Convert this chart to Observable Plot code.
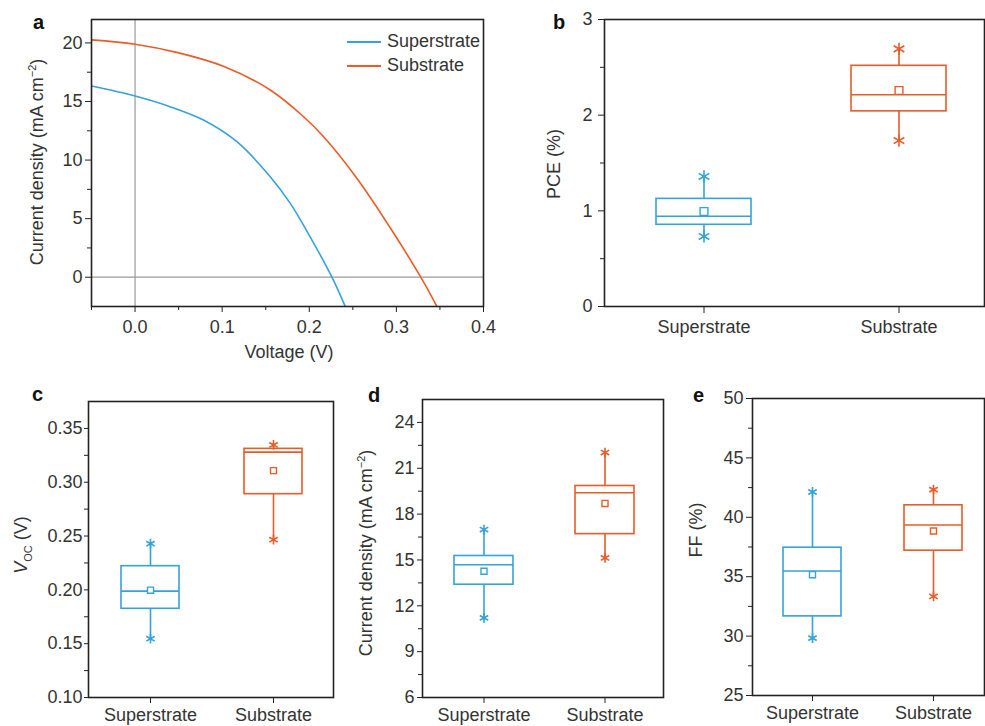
<!DOCTYPE html>
<html><head><meta charset="utf-8">
<script src="https://cdn.jsdelivr.net/npm/d3@7"></script>
<script src="https://cdn.jsdelivr.net/npm/@observablehq/plot@0.6"></script>
<style>
body{margin:0;background:#fff;font-family:"Liberation Sans",Arial,sans-serif;}
#root{position:relative;width:985px;height:726px;overflow:hidden;background:#fff;}
.panel{position:absolute;}
.lbl{position:absolute;font-size:18px;line-height:1;color:#333;white-space:nowrap;}
.ytitle{transform:translate(-50%,-50%) rotate(-90deg);}
.xtitle{transform:translate(-50%,-50%);}
.letter{position:absolute;font-weight:bold;font-size:20px;line-height:1;color:#111;}
sup,sub{font-size:11px;line-height:0;}
</style></head><body><div id="root"></div>
<script>
// ---------- data ----------
const groups = ["Superstrate", "Substrate"];
const colors = ["#35A2D8", "#E85C28"];

// J–V curves (panel a)
const vSuper = [-0.05, 0, 0.0402, 0.0785, 0.1169, 0.1552, 0.1782, 0.201, 0.226, 0.2414];
const jSuper = [16.32, 15.47, 14.56, 13.42, 11.57, 8.58, 6.3, 3.45, 0, -2.52];
const vSub = [-0.05, 0, 0.049, 0.1027, 0.1552, 0.1935, 0.2165, 0.2548, 0.2931, 0.328, 0.3467];
const jSub = [20.26, 19.89, 19.17, 17.97, 15.98, 13.7, 11.99, 8.43, 4.2, 0, -2.52];

// box statistics: [Superstrate, Substrate]
const pceMin = [0.732, 1.735], pceQ1 = [0.854, 2.04], pceMed = [0.944, 2.213], pceQ3 = [1.125, 2.516], pceMax = [1.359, 2.693], pceMean = [0.993, 2.258];
const vocMin = [0.1546, 0.2466], vocQ1 = [0.1824, 0.2889], vocMed = [0.1988, 0.328], vocQ3 = [0.222, 0.331], vocMax = [0.2429, 0.3346], vocMean = [0.1997, 0.3108];
const jscMin = [11.21, 15.13], jscQ1 = [13.38, 16.69], jscMed = [14.69, 19.40], jscQ3 = [15.26, 19.84], jscMax = [16.99, 22.03], jscMean = [14.26, 18.70];
const ffMin = [29.83, 33.34], ffQ1 = [31.66, 37.19], ffMed = [35.48, 39.35], ffQ3 = [37.44, 41.01], ffMax = [42.13, 42.33], ffMean = [35.17, 38.85];

// tick values
const aXTicks = [0, 0.1, 0.2, 0.3, 0.4], aXMinor = [-0.05, 0.05, 0.15, 0.25, 0.35];
const aYTicks = [0, 5, 10, 15, 20], aYMinor = [2.5, 7.5, 12.5, 17.5];
const pceTicks = [0, 1, 2, 3], pceMinor = [0.5, 1.5, 2.5];
const vocTicks = [0.10, 0.15, 0.20, 0.25, 0.30, 0.35], vocMinor = [0.125, 0.175, 0.225, 0.275, 0.325];
const jscTicks = [6, 9, 12, 15, 18, 21, 24], jscMinor = [7.5, 10.5, 13.5, 16.5, 19.5, 22.5];
const ffTicks = [25, 30, 35, 40, 45, 50], ffMinor = [27.5, 32.5, 37.5, 42.5, 47.5];

// ---------- helpers ----------
const root = document.getElementById("root");
function place(svg, left, top) {
  const d = document.createElement("div");
  d.className = "panel"; d.style.left = left + "px"; d.style.top = top + "px";
  d.appendChild(svg); root.appendChild(d);
}
function html(cls, left, top, inner) {
  const d = document.createElement("div");
  d.className = cls; d.style.left = left + "px"; d.style.top = top + "px";
  d.innerHTML = inner; root.appendChild(d);
}
const baseStyle = {fontFamily: "Liberation Sans, Arial, sans-serif", fontSize: "18px", color: "#333", background: "transparent", overflow: "visible"};

// ---------- panel a ----------
const superRows = vSuper.map((v, i) => ({v, j: jSuper[i]}));
const subRows = vSub.map((v, i) => ({v, j: jSub[i]}));
place(Plot.plot({
  width: 500, height: 370, marginLeft: 91, marginRight: 17, marginTop: 19, marginBottom: 64,
  style: baseStyle,
  x: {domain: [-0.05, 0.4]},
  y: {domain: [-2.5, 22]},
  marks: [
    Plot.ruleX([0], {stroke: "#9a9a9a", strokeWidth: 1.2}),
    Plot.ruleY([0], {stroke: "#9a9a9a", strokeWidth: 1.2}),
    Plot.line(superRows, {x: "v", y: "j", stroke: colors[0], strokeWidth: 1.6, curve: "catmull-rom", clip: true}),
    Plot.line(subRows, {x: "v", y: "j", stroke: colors[1], strokeWidth: 1.6, curve: "catmull-rom", clip: true}),
    Plot.frame({stroke: "#222", strokeWidth: 1.6}),
    Plot.axisX(aXTicks, {tickSize: 6, tickPadding: 8, fontSize: 18, tickFormat: d3.format(".1f"), label: null, stroke: "#222"}),
    Plot.axisX(aXMinor, {tickSize: 4, tickFormat: () => "", label: null, stroke: "#222"}),
    Plot.axisY(aYTicks, {tickSize: 6, tickPadding: 3, fontSize: 18, label: null, stroke: "#222"}),
    Plot.axisY(aYMinor, {tickSize: 4, tickFormat: () => "", label: null, stroke: "#222"})
  ]
}), 0, 0);

// legend (panel a)
html("lbl", 347, 41, `<div style="width:34px;height:2px;background:${colors[0]}"></div>`);
html("lbl", 347, 65, `<div style="width:34px;height:2px;background:${colors[1]}"></div>`);
html("lbl", 387, 32, groups[0]);
html("lbl", 387, 56, groups[1]);

// ---------- box panels ----------
function boxPanel(o) {
  const rows = groups.map((g, i) => ({g, min: o.min[i], q1: o.q1[i], med: o.med[i], q3: o.q3[i], max: o.max[i], mean: o.mean[i]}));
  return Plot.plot({
    width: o.width, height: o.height,
    marginLeft: o.ml, marginRight: o.mr, marginTop: o.mt, marginBottom: o.mb,
    style: baseStyle,
    x: {type: "band", domain: groups, paddingInner: o.pi, paddingOuter: o.po, align: o.align},
    y: {domain: o.ydom},
    color: {domain: groups, range: colors},
    marks: [
      Plot.ruleX(rows, {x: "g", y1: "q3", y2: "max", stroke: "g", strokeWidth: 1.6}),
      Plot.ruleX(rows, {x: "g", y1: "min", y2: "q1", stroke: "g", strokeWidth: 1.6}),
      Plot.barY(rows, {x: "g", y1: "q1", y2: "q3", fill: "none", stroke: "g", strokeWidth: 1.6}),
      Plot.tickY(rows, {x: "g", y: "med", stroke: "g", strokeWidth: 1.6}),
      Plot.dot(rows, {x: "g", y: "mean", symbol: "square", r: o.sq, stroke: "g", fill: "white", strokeWidth: 1.4}),
      Plot.dot(rows, {x: "g", y: "max", symbol: "asterisk", r: o.star, stroke: "g", strokeWidth: 1.6}),
      Plot.dot(rows, {x: "g", y: "min", symbol: "asterisk", r: o.star, stroke: "g", strokeWidth: 1.6}),
      Plot.frame({stroke: "#222", strokeWidth: 1.6}),
      Plot.axisX({tickSize: o.xts, tickPadding: o.xtp, fontSize: 18, label: null, stroke: "#222"}),
      Plot.axisY(o.ticks, {tickSize: o.yts, tickPadding: o.ytp, fontSize: 18, tickFormat: o.fmt, label: null, stroke: "#222"}),
      Plot.axisY(o.minor, {tickSize: 4, tickFormat: () => "", label: null, stroke: "#222"})
    ]
  });
}

// panel b
place(boxPanel({width: 485, height: 370, ml: 104, mr: 1, mt: 19, mb: 64, pi: 0.515, po: 0.227, align: 0.58,
  ydom: [0, 3], ticks: pceTicks, minor: pceMinor, fmt: d3.format("d"),
  min: pceMin, q1: pceQ1, med: pceMed, q3: pceQ3, max: pceMax, mean: pceMean,
  sq: 4.4, star: 5.8, xts: 7, xtp: 7, yts: 6, ytp: 6}), 500, 0);

// panel c
place(boxPanel({width: 340, height: 346, ml: 88, mr: 7, mt: 21, mb: 29, pi: 0.53, po: 0.26, align: 0.51,
  ydom: [0.10, 0.375], ticks: vocTicks, minor: vocMinor, fmt: d3.format(".2f"),
  min: vocMin, q1: vocQ1, med: vocMed, q3: vocQ3, max: vocMax, mean: vocMean,
  sq: 3.4, star: 4.6, xts: 6, xtp: 5, yts: 4, ytp: 2}), 0, 380);

// panel d
place(boxPanel({width: 340, height: 346, ml: 82, mr: 17, mt: 19, mb: 29, pi: 0.51, po: 0.25, align: 0.52,
  ydom: [6, 25.5], ticks: jscTicks, minor: jscMinor, fmt: d3.format("d"),
  min: jscMin, q1: jscQ1, med: jscMed, q3: jscQ3, max: jscMax, mean: jscMean,
  sq: 3.4, star: 4.6, xts: 6, xtp: 5, yts: 5, ytp: 3}), 340, 380);

// panel e
place(boxPanel({width: 315, height: 346, ml: 82, mr: 1, mt: 18, mb: 31, pi: 0.52, po: 0.215, align: 0.58,
  ydom: [25, 50], ticks: ffTicks, minor: ffMinor, fmt: d3.format("d"),
  min: ffMin, q1: ffQ1, med: ffMed, q3: ffQ3, max: ffMax, mean: ffMean,
  sq: 3.4, star: 4.6, xts: 6, xtp: 5, yts: 6, ytp: 3}), 670, 380);

// ---------- titles & letters ----------
html("lbl ytitle", 37, 162, "Current density (mA cm<sup>−2</sup>)");
html("lbl xtitle", 289, 352, "Voltage (V)");
html("lbl ytitle", 554, 164, "PCE (%)");
html("lbl ytitle", 21, 545, "<i>V</i><sub>OC</sub> (V)");
html("lbl ytitle", 366, 553, "Current density (mA cm<sup>−2</sup>)");
html("lbl ytitle", 696, 530, "FF (%)");

html("letter", 33, 12, "a");
html("letter", 553, 12, "b");
html("letter", 32, 384, "c");
html("letter", 368, 385, "d");
html("letter", 693, 385, "e");
</script>
</body></html>
